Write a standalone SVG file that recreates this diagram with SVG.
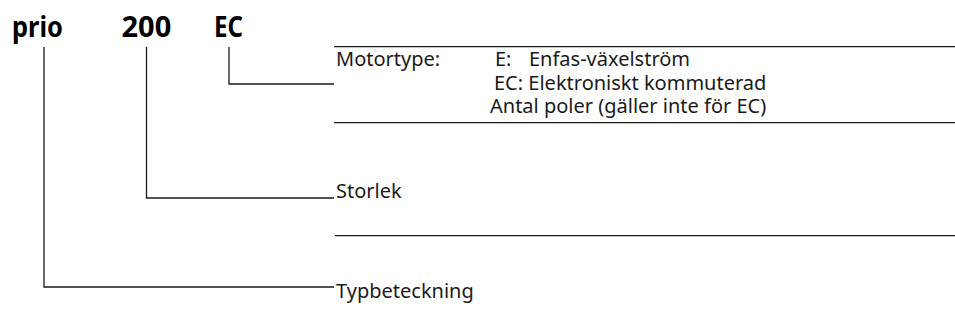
<svg xmlns="http://www.w3.org/2000/svg" width="955" height="322" viewBox="0 0 955 322">
<style>
.t{font-family:"Noto Sans","Open Sans","DejaVu Sans",sans-serif;font-size:20px;fill:#1a1a1a}
.h{font-family:"Noto Sans","Open Sans","DejaVu Sans",sans-serif;font-size:29px;font-weight:bold;fill:#000}
.ln{stroke:#1a1a1a;stroke-width:1.3;fill:none}
</style>
<rect width="955" height="322" fill="#fff"/>
<g id="code">
<text class="h" x="12" y="36.5" textLength="51" lengthAdjust="spacingAndGlyphs">prio</text>
<text class="h" x="121.5" y="36.5">200</text>
<text class="h" x="214" y="36.5" textLength="29" lengthAdjust="spacingAndGlyphs">EC</text>
</g>
<g id="connectors">
<polyline class="ln" points="44,47 44,287 334,287"/>
<polyline class="ln" points="146.5,47 146.5,198 334,198"/>
<polyline class="ln" points="229,47 229,84 334,84"/>
<line class="ln" x1="334" y1="46.7" x2="955" y2="46.7"/>
<line class="ln" x1="334" y1="122.7" x2="955" y2="122.7"/>
<line class="ln" x1="335" y1="235.7" x2="955" y2="235.7"/>
</g>
<g id="motortype">
<text class="t" x="336" y="66">Motortype:</text>
<text class="t" x="495" y="66">E:</text>
<text class="t" x="529" y="66">Enfas-växelström</text>
<text class="t" x="494" y="90">EC: Elektroniskt kommuterad</text>
<text class="t" x="490" y="113">Antal poler (gäller inte för EC)</text>
</g>
<g id="storlek">
<text class="t" x="336" y="198">Storlek</text>
</g>
<g id="typbeteckning">
<text class="t" x="336" y="298">Typbeteckning</text>
</g>
</svg>
